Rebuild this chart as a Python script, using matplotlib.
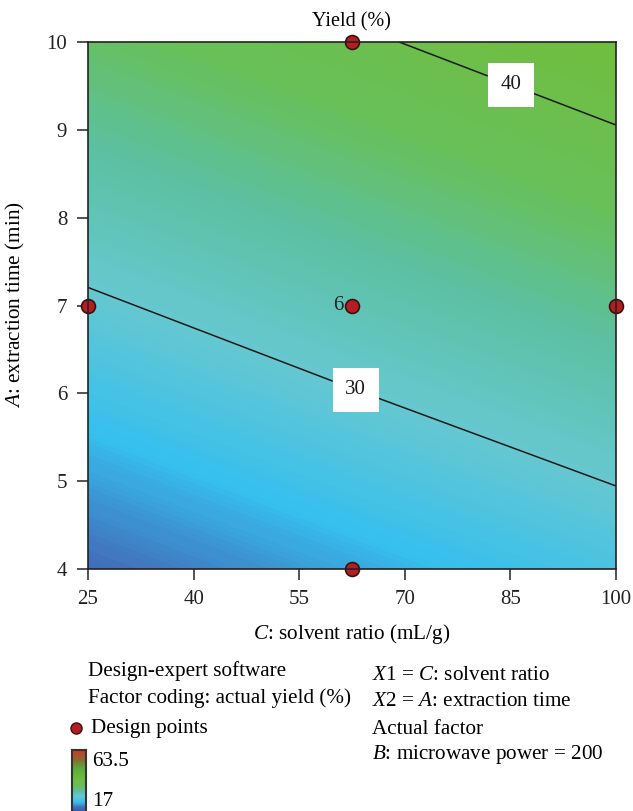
import numpy as np
import matplotlib
matplotlib.use('Agg')
import matplotlib.pyplot as plt
from matplotlib.colors import LinearSegmentedColormap

plt.rcParams['font.family'] = ['Liberation Serif', 'DejaVu Serif']
plt.rcParams['mathtext.fontset'] = 'custom'
plt.rcParams['mathtext.rm'] = 'Liberation Serif'
plt.rcParams['mathtext.it'] = 'Liberation Serif:italic'

# response surface values (yield %, rows = extraction time)
solvent_ratio = [25, 62.5, 100]
extraction_time = [4, 7, 10]
yield_grid = [[22.2, 25.0, 27.7],
              [29.5, 32.3, 35.0],
              [36.8, 39.5, 42.3]]
contour_levels = [30, 40]

# design points
pts_x = [62.5, 25, 62.5, 100, 62.5]
pts_y = [10, 7, 7, 7, 4]

ymin, ymax = 17, 63.5
xticks = [25, 40, 55, 70, 85, 100]
yticks = [4, 5, 6, 7, 8, 9, 10]

stops = [(17, '#2a48a0'), (22.5, '#4270ba'), (26, '#36bfee'), (30, '#66c8d0'),
         (34, '#5cc0a0'), (37.5, '#68c05a'), (42, '#70be40'), (50, '#58ac3a'),
         (56, '#8a6a30'), (63.5, '#d83028')]
cmap = LinearSegmentedColormap.from_list(
    'de', [((v - ymin) / (ymax - ymin), c) for v, c in stops])

W, H = 633, 811
fig = plt.figure(figsize=(W / 100, H / 100), dpi=100)
ax = fig.add_axes([88 / W, 1 - 569 / H, (616 - 88) / W, (569 - 42) / H])

X, Y = np.meshgrid(solvent_ratio, extraction_time)
Z = np.array(yield_grid)
cf = ax.contourf(X, Y, Z, levels=np.linspace(ymin, ymax, 300), cmap=cmap,
                 vmin=ymin, vmax=ymax, antialiased=False)
cs = ax.contour(X, Y, Z, levels=contour_levels, colors='#1a1a1a', linewidths=1.1)
labels = ax.clabel(cs, fmt='%d', fontsize=15, inline=True, inline_spacing=14,
                   manual=[(63.2, 6.08), (85.1, 9.53)])
for t in labels:
    t.set_bbox(dict(boxstyle='square,pad=0.6', fc='white', ec='none'))
    t.set_rotation(0)

ax.plot(pts_x, pts_y, 'o', ms=10, mfc='#b41e22', mec='#3a1010', mew=1.2,
        clip_on=False, zorder=5)
ax.text(61.3, 7, '6', ha='right', va='center', fontsize=15, color='#222222')

ax.set_xlim(25, 100)
ax.set_ylim(4, 10)
ax.set_xticks(xticks)
ax.set_yticks(yticks)
ax.tick_params(direction='out', length=8, width=1.1, labelsize=15, pad=7,
               colors='#222222')
for s in ax.spines.values():
    s.set_linewidth(1.2)
    s.set_color('#222222')
    s.set_zorder(6)

def px(x, y):
    return x / W, 1 - y / H

fig.text(*px(351, 22), 'Yield (%)', ha='center', va='center', fontsize=14.5)
fig.text(*px(352, 634), '$C$: solvent ratio (mL/g)', ha='center', va='center',
         fontsize=15.3)
fig.text(*px(15, 305), '$A$: extraction time (min)', ha='center', va='center',
         rotation=90, fontsize=15.3)

fs = 15.2
fig.text(*px(88, 671), 'Design-expert software', va='center', fontsize=fs)
fig.text(*px(88, 698), 'Factor coding: actual yield (%)', va='center', fontsize=fs)
fig.text(*px(91, 728), 'Design points', va='center', fontsize=fs)
fig.lines.append(plt.Line2D([76 / W], [1 - 728 / H], marker='o', ms=8,
                            mfc='#b41e22', mec='#3a1010', mew=1,
                            transform=fig.transFigure))
fig.text(*px(92, 761), '63.5', va='center', fontsize=fs)
fig.text(*px(92, 802), '17', va='center', fontsize=fs)

fig.text(*px(372, 675), '$X$1 = $C$: solvent ratio', va='center', fontsize=fs)
fig.text(*px(372, 702), '$X$2 = $A$: extraction time', va='center', fontsize=fs)
fig.text(*px(372, 729), 'Actual factor', va='center', fontsize=fs)
fig.text(*px(372, 755), '$B$: microwave power = 200', va='center', fontsize=fs)

cax = fig.add_axes([72 / W, -0.005, 14 / W, (811 - 750) / H + 0.005])
grad = np.linspace(ymin, ymax, 256).reshape(-1, 1)
cax.imshow(grad, aspect='auto', cmap=cmap, origin='lower', vmin=ymin, vmax=ymax)
cax.set_xticks([])
cax.set_yticks([])
for s in cax.spines.values():
    s.set_linewidth(1.5)
    s.set_color('#333333')

fig.savefig('out.png', dpi=100)
